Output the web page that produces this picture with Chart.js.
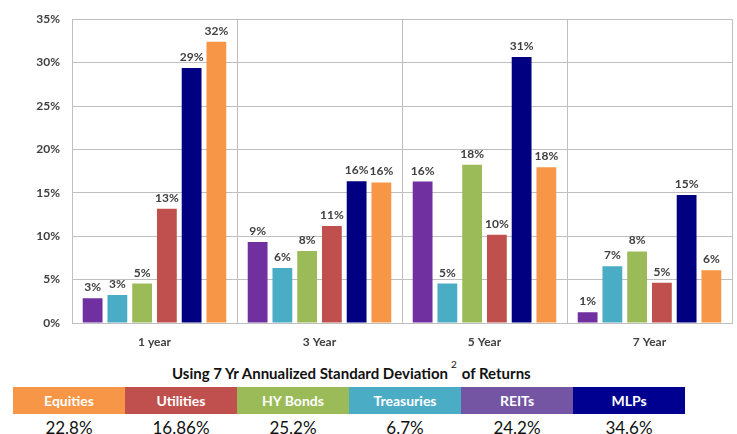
<!DOCTYPE html>
<html>
<head>
<meta charset="utf-8">
<script src="https://cdn.jsdelivr.net/npm/chart.js@4"></script>
<style>
  body { margin: 0; background: #fff; font-family: Lato, "Open Sans", sans-serif; }
  #wrap { position: relative; width: 737px; height: 434px; overflow: hidden; }
  #chart { position: absolute; left: 0; top: 0; }
  #title { position: absolute; left: 172px; top: 363px; font-weight: bold; font-size: 15px; color: #111; white-space: nowrap; }
  #title sup { font-weight: normal; font-size: 10px; position: relative; top: -5px; margin: 0 5px 0 3px; }
  table { position: absolute; left: 13px; top: 387px; border-collapse: collapse; }
  td { width: 112px; padding: 0; text-align: center; }
  .head td { height: 27px; color: #fff; font-weight: bold; font-size: 14px; }
  .vals td { height: 22px; color: #111; font-size: 17px; padding-top: 2px; }
</style>
</head>
<body>
<div id="wrap">
  <canvas id="chart" width="737" height="352"></canvas>
  <div id="title">Using 7 Yr Annualized Standard Deviation<sup>2</sup>of Returns</div>
  <table>
    <tr class="head" id="headRow"></tr>
    <tr class="vals" id="valRow"></tr>
  </table>
</div>
<script>
const years = ['1 year', '3 Year', '5 Year', '7 Year'];
const reits = [2.85, 9.34, 16.3, 1.24];
const treasuries = [3.23, 6.34, 4.54, 6.55];
const hyBonds = [4.54, 8.29, 18.23, 8.25];
const utilities = [13.17, 11.18, 10.16, 4.65];
const mlps = [29.37, 16.32, 30.65, 14.74];
const equities = [32.4, 16.2, 17.93, 6.08];

const tableLabels = ['Equities', 'Utilities', 'HY Bonds', 'Treasuries', 'REITs', 'MLPs'];
const tableValues = ['22.8%', '16.86%', '25.2%', '6.7%', '24.2%', '34.6%'];
const tableColors = ['#F79646', '#C0504D', '#9BBB59', '#4BACC6', '#7355A4', '#000090'];

// header + value rows of the table under the chart
const headRow = document.getElementById('headRow');
const valRow = document.getElementById('valRow');
tableLabels.forEach((name, i) => {
  const h = document.createElement('td');
  h.textContent = name;
  h.style.background = tableColors[i];
  headRow.appendChild(h);
  const v = document.createElement('td');
  v.textContent = tableValues[i];
  valRow.appendChild(v);
});

const tickFont = { family: 'Lato', size: 12, weight: 'bold' };
const gridColor = '#BFBFBF';

// draws the rounded % value above each bar
const barLabels = {
  id: 'barLabels',
  afterDatasetsDraw(chart) {
    const ctx = chart.ctx;
    ctx.save();
    ctx.font = 'bold 12px Lato';
    ctx.fillStyle = '#404040';
    ctx.textAlign = 'center';
    ctx.textBaseline = 'alphabetic';
    chart.data.datasets.forEach((ds, i) => {
      chart.getDatasetMeta(i).data.forEach((bar, j) => {
        ctx.fillText(Math.round(ds.data[j]) + '%', bar.x, bar.y - 7);
      });
    });
    ctx.restore();
  }
};

const barData = {
  labels: years,
  datasets: [
    { label: 'REITs', data: reits, backgroundColor: '#7030A0' },
    { label: 'Treasuries', data: treasuries, backgroundColor: '#4BACC6' },
    { label: 'HY Bonds', data: hyBonds, backgroundColor: '#9BBB59' },
    { label: 'Utilities', data: utilities, backgroundColor: '#C0504D' },
    { label: 'MLPs', data: mlps, backgroundColor: '#000080' },
    { label: 'Equities', data: equities, backgroundColor: '#F79646' }
  ]
};

const barConfig = {
  type: 'bar',
  data: barData,
  options: {
    responsive: false,
    animation: false,
    devicePixelRatio: 1,
    categoryPercentage: 0.9,
    barPercentage: 0.8,
    layout: { padding: { top: 12, right: 5, left: 0, bottom: 0 } },
    scales: {
      x: {
        grid: { color: gridColor, drawTicks: false, offset: true },
        border: { color: gridColor },
        ticks: { font: tickFont, color: '#404040', padding: 12 },
        afterFit(scale) { scale.height = 29; }
      },
      y: {
        min: 0,
        max: 35,
        grid: { color: gridColor, drawTicks: false },
        border: { color: gridColor },
        ticks: {
          stepSize: 5,
          font: tickFont,
          color: '#404040',
          padding: 12,
          callback: v => v + '%'
        },
        afterFit(scale) { scale.width = 72; }
      }
    },
    plugins: {
      legend: { display: false },
      tooltip: { enabled: false }
    }
  },
  plugins: [barLabels]
};

const barChart = new Chart(document.getElementById('chart'), barConfig);
</script>
</body>
</html>
